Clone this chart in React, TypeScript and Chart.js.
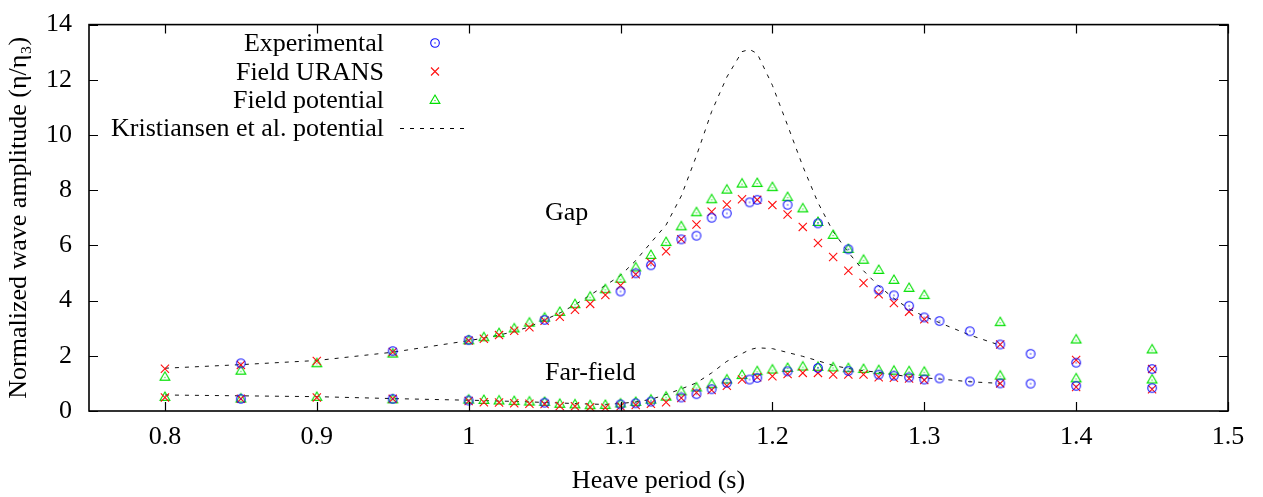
import React, { useEffect, useRef } from "react";
import { Chart, registerables } from "chart.js";

Chart.register(...registerables);

// ---------- data ----------
const xTickValues = [0.8, 0.9, 1.0, 1.1, 1.2, 1.3, 1.4, 1.5];
const xTickLabels = ["0.8", "0.9", "1", "1.1", "1.2", "1.3", "1.4", "1.5"];
const yTickValues = [0, 2, 4, 6, 8, 10, 12, 14];
const yTickLabels = ["0", "2", "4", "6", "8", "10", "12", "14"];

const expPeriods = [0.85, 0.95, 1.0, 1.05, 1.1, 1.11, 1.12, 1.14, 1.15, 1.16, 1.17, 1.185, 1.19, 1.21, 1.23, 1.25, 1.27, 1.28, 1.29, 1.3, 1.31, 1.33, 1.35, 1.37, 1.4, 1.45];
const expGap = [1.73, 2.17, 2.57, 3.3, 4.33, 4.99, 5.28, 6.22, 6.35, 7.0, 7.16, 7.56, 7.65, 7.47, 6.8, 5.86, 4.38, 4.19, 3.81, 3.39, 3.26, 2.89, 2.41, 2.07, 1.75, 1.52];
const expFar = [0.44, 0.44, 0.38, 0.3, 0.24, 0.28, 0.34, 0.49, 0.61, 0.79, 1.02, 1.14, 1.2, 1.44, 1.56, 1.45, 1.32, 1.28, 1.22, 1.14, 1.18, 1.07, 1.0, 0.99, 0.91, 0.83];

const simPeriods = [0.8, 0.85, 0.9, 0.95, 1.0, 1.01, 1.02, 1.03, 1.04, 1.05, 1.06, 1.07, 1.08, 1.09, 1.1, 1.11, 1.12, 1.13, 1.14, 1.15, 1.16, 1.17, 1.18, 1.19, 1.2, 1.21, 1.22, 1.23, 1.24, 1.25, 1.26, 1.27, 1.28, 1.29, 1.3, 1.35, 1.4, 1.45];
const uransGap = [1.53, 1.67, 1.81, 2.14, 2.55, 2.62, 2.75, 2.91, 3.03, 3.27, 3.41, 3.67, 3.88, 4.2, 4.55, 4.95, 5.38, 5.79, 6.22, 6.76, 7.22, 7.48, 7.67, 7.65, 7.46, 7.12, 6.67, 6.09, 5.58, 5.08, 4.64, 4.23, 3.91, 3.6, 3.32, 2.41, 1.85, 1.52];
const uransFar = [0.49, 0.44, 0.49, 0.44, 0.36, 0.32, 0.31, 0.28, 0.26, 0.25, 0.18, 0.17, 0.14, 0.12, 0.17, 0.22, 0.26, 0.32, 0.47, 0.67, 0.76, 0.91, 1.14, 1.22, 1.26, 1.34, 1.38, 1.38, 1.32, 1.32, 1.32, 1.22, 1.2, 1.18, 1.12, 1.0, 0.87, 0.79];
const potGap = [1.24, 1.46, 1.73, 2.08, 2.56, 2.67, 2.82, 2.99, 3.2, 3.38, 3.59, 3.87, 4.14, 4.41, 4.79, 5.2, 5.65, 6.12, 6.69, 7.2, 7.67, 8.02, 8.24, 8.26, 8.11, 7.75, 7.34, 6.85, 6.38, 5.87, 5.48, 5.11, 4.75, 4.46, 4.2, 3.22, 2.59, 2.23];
const potFar = [0.51, 0.45, 0.51, 0.42, 0.41, 0.4, 0.38, 0.36, 0.34, 0.33, 0.26, 0.24, 0.21, 0.22, 0.27, 0.33, 0.41, 0.52, 0.71, 0.85, 0.97, 1.14, 1.3, 1.44, 1.5, 1.56, 1.61, 1.6, 1.58, 1.55, 1.52, 1.48, 1.46, 1.44, 1.42, 1.28, 1.18, 1.14];

const kristPeriods = [0.8, 0.85, 0.9, 0.95, 1.0, 1.01, 1.02, 1.03, 1.04, 1.05, 1.06, 1.07, 1.08, 1.09, 1.1, 1.11, 1.12, 1.13, 1.14, 1.15, 1.16, 1.17, 1.18, 1.185, 1.19, 1.2, 1.21, 1.22, 1.23, 1.24, 1.25, 1.26, 1.27, 1.28, 1.29, 1.3, 1.31, 1.33, 1.35];
const kristGap = [1.55, 1.68, 1.83, 2.13, 2.55, 2.64, 2.75, 2.88, 3.05, 3.3, 3.55, 3.85, 4.2, 4.55, 4.91, 5.45, 6.1, 6.74, 7.79, 9.25, 10.85, 12.1, 13.02, 13.1, 12.95, 11.8, 10.35, 8.87, 7.55, 6.5, 5.75, 5.08, 4.53, 4.08, 3.7, 3.43, 3.2, 2.75, 2.38];
const kristFar = [0.58, 0.55, 0.52, 0.45, 0.39, 0.38, 0.36, 0.35, 0.33, 0.31, 0.29, 0.27, 0.25, 0.24, 0.27, 0.33, 0.42, 0.6, 0.8, 1.02, 1.38, 1.8, 2.08, 2.22, 2.29, 2.26, 2.12, 1.98, 1.82, 1.65, 1.54, 1.46, 1.4, 1.32, 1.24, 1.2, 1.16, 1.06, 1.0];

const legendLabels = ["Experimental", "Field URANS", "Field potential", "Kristiansen et al. potential"];
const regionLabels = ["Gap", "Far-field"];
const xTitle = "Heave period (s)";
const yTitle = "Normalized wave amplitude (\u03b7/\u03b7\u2083)";

// ---------- styles ----------
const FONT = "'Liberation Serif', 'DejaVu Serif', serif";
const FS = 26;
const BLUE = "#1010ff";
const RED = "#ff1010";
const GREEN = "#00e000";

function pts(xs: number[], ys: number[]) {
  return xs.map((x, i) => ({ x, y: ys[i] }));
}

function makeCircle(color: string) {
  const c = document.createElement("canvas");
  c.width = 12; c.height = 12;
  const g = c.getContext("2d")!;
  g.strokeStyle = color; g.lineWidth = 1.1;
  g.beginPath(); g.arc(6, 6, 4.3, 0, Math.PI * 2); g.stroke();
  g.fillStyle = color;
  g.beginPath(); g.arc(6, 6, 0.7, 0, Math.PI * 2); g.fill();
  return c;
}
function makeTriangle(color: string) {
  const c = document.createElement("canvas");
  c.width = 14; c.height = 14;
  const g = c.getContext("2d")!;
  g.strokeStyle = color; g.lineWidth = 1.1;
  g.beginPath(); g.moveTo(7, 2); g.lineTo(11.9, 10.4); g.lineTo(2.1, 10.4); g.closePath(); g.stroke();
  g.fillStyle = color;
  g.beginPath(); g.arc(7, 7.6, 0.7, 0, Math.PI * 2); g.fill();
  return c;
}

export default function App() {
  const ref = useRef<HTMLCanvasElement | null>(null);

  useEffect(() => {
    document.body.style.margin = "0";
    const canvas = ref.current!;
    const circ = makeCircle(BLUE);
    const tri = makeTriangle(GREEN);

    const frame = {
      id: "frame",
      afterDatasetsDraw(chart: any) {
        const { ctx, chartArea: a, scales } = chart;
        const xs = scales.x, ys = scales.y;
        ctx.save();
        ctx.strokeStyle = "#000";
        ctx.lineWidth = 1.6;
        ctx.strokeRect(a.left, a.top, a.right - a.left, a.bottom - a.top);
        ctx.lineWidth = 1.2;
        const tl = 9;
        ctx.beginPath();
        xTickValues.forEach((v) => {
          const px = Math.round(xs.getPixelForValue(v)) + 0.5;
          ctx.moveTo(px, a.bottom); ctx.lineTo(px, a.bottom - tl);
          ctx.moveTo(px, a.top); ctx.lineTo(px, a.top + tl);
        });
        yTickValues.forEach((v) => {
          const py = Math.round(ys.getPixelForValue(v)) + 0.5;
          ctx.moveTo(a.left, py); ctx.lineTo(a.left + tl, py);
          ctx.moveTo(a.right, py); ctx.lineTo(a.right - tl, py);
        });
        ctx.stroke();

        // legend
        ctx.font = `${FS}px ${FONT}`;
        ctx.fillStyle = "#000";
        ctx.textAlign = "right";
        ctx.textBaseline = "alphabetic";
        const rows = [43, 71.5, 100, 128];
        const tx = 384, sx = 435;
        legendLabels.forEach((t, i) => ctx.fillText(t, tx, rows[i] + 8));
        ctx.drawImage(circ, sx - 6, rows[0] - 6);
        ctx.strokeStyle = RED; ctx.lineWidth = 1.1;
        ctx.beginPath();
        ctx.moveTo(sx - 4, rows[1] - 4); ctx.lineTo(sx + 4, rows[1] + 4);
        ctx.moveTo(sx + 4, rows[1] - 4); ctx.lineTo(sx - 4, rows[1] + 4);
        ctx.stroke();
        ctx.drawImage(tri, sx - 7, rows[2] - 7);
        ctx.strokeStyle = "#000"; ctx.lineWidth = 1;
        ctx.setLineDash([4, 6]);
        ctx.beginPath(); ctx.moveTo(400, rows[3] + 0.5); ctx.lineTo(468, rows[3] + 0.5); ctx.stroke();
        ctx.setLineDash([]);

        // region labels
        ctx.textAlign = "left";
        ctx.fillText(regionLabels[0], 545, 220);
        ctx.fillText(regionLabels[1], 545, 380);
        ctx.restore();
      },
    };

    const scatterDs = (label: string, xs: number[], ys: number[], style: any, color: string, radius: number) => ({
      label,
      data: pts(xs, ys),
      showLine: false,
      pointStyle: style,
      pointRadius: radius,
      pointBorderColor: color,
      pointBackgroundColor: "transparent",
      pointBorderWidth: 1.1,
      borderColor: color,
    });
    const lineDs = (label: string, xs: number[], ys: number[]) => ({
      label,
      data: pts(xs, ys),
      showLine: true,
      pointRadius: 0,
      borderColor: "#111",
      borderWidth: 1,
      borderDash: [4, 6],
      tension: 0,
      fill: false,
    });

    const chart = new Chart(canvas, {
      type: "scatter",
      data: {
        datasets: [
          scatterDs(legendLabels[0] + " gap", expPeriods, expGap, circ, BLUE, 4),
          scatterDs(legendLabels[0] + " far", expPeriods, expFar, circ, BLUE, 4),
          scatterDs(legendLabels[1] + " gap", simPeriods, uransGap, "crossRot", RED, 5.8),
          scatterDs(legendLabels[1] + " far", simPeriods, uransFar, "crossRot", RED, 5.8),
          scatterDs(legendLabels[2] + " gap", simPeriods, potGap, tri, GREEN, 4),
          scatterDs(legendLabels[2] + " far", simPeriods, potFar, tri, GREEN, 4),
          lineDs(legendLabels[3] + " gap", kristPeriods, kristGap),
          lineDs(legendLabels[3] + " far", kristPeriods, kristFar),
        ] as any,
      },
      options: {
        responsive: false,
        animation: false,
        devicePixelRatio: 1,
        layout: { padding: { left: 0, top: 14, right: 35, bottom: 0 } },
        plugins: { legend: { display: false }, tooltip: { enabled: false } },
        events: [],
        scales: {
          x: {
            type: "linear",
            min: 0.75,
            max: 1.5,
            afterBuildTicks: (s: any) => { s.ticks = xTickValues.map((v) => ({ value: v })); },
            afterFit: (s: any) => { s.height = 86; },
            grid: { display: false },
            border: { display: false },
            ticks: {
              padding: 3,
              color: "#000",
              font: { family: FONT, size: FS },
              maxRotation: 0,
              autoSkip: false,
              callback: (v: any) => { const i = xTickValues.findIndex((t) => Math.abs(t - v) < 1e-6); return i >= 0 ? xTickLabels[i] : ""; },
            },
            title: { display: true, text: xTitle, color: "#000", font: { family: FONT, size: FS }, padding: { top: 8, bottom: 0 } },
          },
          y: {
            type: "linear",
            min: 0,
            max: 14,
            afterBuildTicks: (s: any) => { s.ticks = yTickValues.map((v) => ({ value: v })); },
            afterFit: (s: any) => { s.width = 89; },
            grid: { display: false },
            border: { display: false },
            ticks: {
              padding: 9,
              color: "#000",
              font: { family: FONT, size: FS },
              callback: (v: any) => { const i = yTickValues.indexOf(v); return i >= 0 ? yTickLabels[i] : ""; },
            },
            title: { display: true, text: yTitle, color: "#000", font: { family: FONT, size: FS }, padding: { top: 4, bottom: 0 } },
          },
        },
      },
      plugins: [frame],
    } as any);

    return () => chart.destroy();
  }, []);

  return (
    <div style={{ position: "absolute", left: 0, top: 0, width: 1263, height: 497, background: "#fff" }}>
      <canvas ref={ref} width={1263} height={497} style={{ width: 1263, height: 497, display: "block" }} />
    </div>
  );
}
